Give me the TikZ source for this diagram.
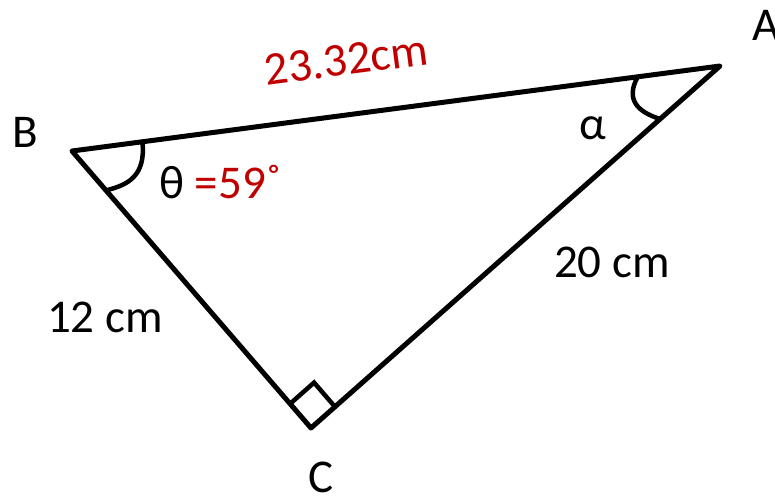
\documentclass[tikz,border=0pt]{standalone}
\usepackage{fontspec}
\setmainfont{Carlito}
\usetikzlibrary{calc}
\definecolor{dred}{RGB}{192,0,0}
\tikzset{
  edge/.style={line width=5pt, line join=round, line cap=round},
  anglemark/.style={line width=4.5pt},
  lbl/.style={font=\fontsize{47}{52}\selectfont, inner sep=0pt},
}
\begin{document}
\begin{tikzpicture}[x=1pt,y=-1pt]
\useasboundingbox (0,0) rectangle (775,495);
\coordinate (B) at (72,151);
\coordinate (A) at (720,66);
\coordinate (C) at (311,428);
\draw[edge] (B) -- (A) -- (C) -- cycle;
% right angle
\coordinate (P1) at ($(C)!32pt!(B)$);
\coordinate (P2) at ($(C)!32pt!(A)$);
\coordinate (P3) at ($(P1)+(P2)-(C)$);
\draw[anglemark] (P1) -- (P3) -- (P2);
% angle arcs
\coordinate (b1) at ($(B)!71pt!(A)$);
\coordinate (b2) at ($(B)!52pt!(C)$);
\draw[anglemark] (b1) .. controls (146,176) and (128,185) .. (b2);
\coordinate (a1) at ($(A)!83pt!(B)$);
\coordinate (a2) at ($(A)!80pt!(C)$);
\draw[anglemark] (a1) .. controls (625,100) and (638,112) .. (a2);
% labels
\node[lbl] (la) at (766,25) {A};
\node[lbl] (lb) at (25,132) {B};
\node[lbl] (lc) at (321,477) {C};
\node[lbl, text=dred, rotate=7.5] (lab) at (346,60) {23.32cm};
\node[lbl] (lalpha) at (593,128) {α};
\node[lbl] (ltheta) at (172,183) {θ};
\node[lbl, text=dred] (lang) at (238,182) {=59˚};
\node[lbl] (lca) at (612,262) {20 cm};
\node[lbl] (lbc) at (105,317) {12 cm};
\end{tikzpicture}
\end{document}
